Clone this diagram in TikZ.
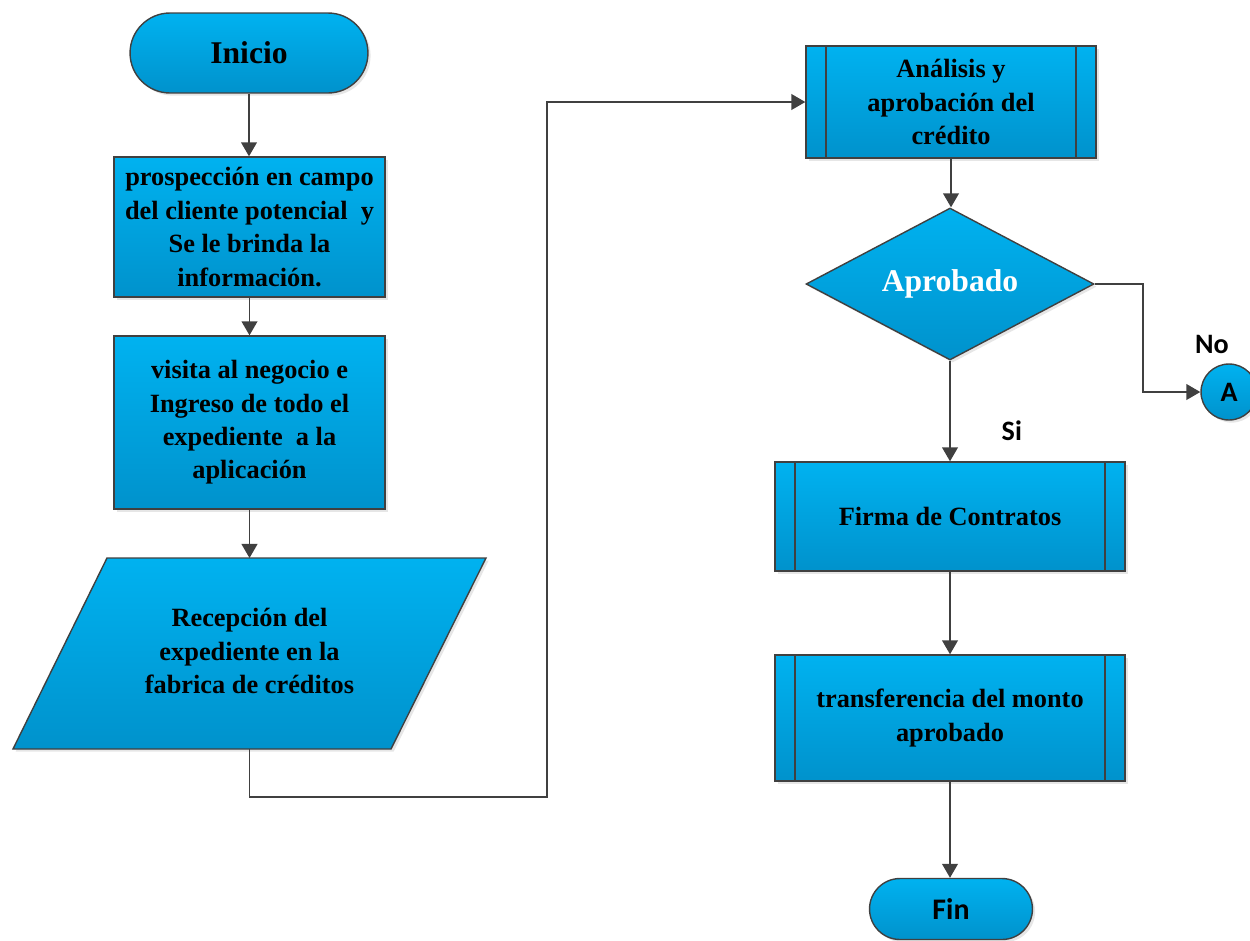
\documentclass[tikz,border=0pt]{standalone}
\usepackage{fontspec}
\setmainfont{Liberation Serif}
\newfontfamily\labelfont{Carlito}
\usepackage{xcolor}
\usetikzlibrary{shapes.geometric,shapes.misc,arrows.meta,shadows}

\definecolor{boxtop}{RGB}{0,178,240}
\definecolor{boxbot}{RGB}{0,146,204}
\definecolor{lineg}{RGB}{64,64,64}

\tikzset{
  block/.style={draw=lineg, line width=0.8pt, top color=boxtop, bottom color=boxbot,
    drop shadow={opacity=0.2, shadow xshift=1.5pt, shadow yshift=-1.5pt},
    align=center, inner sep=2pt, font=\bfseries\fontsize{15}{19}\selectfont},
  process/.style={block, rectangle},
  predef/.style={block, rectangle, path picture={
      \draw[lineg, line width=0.8pt] ([xshift=0.4cm]path picture bounding box.north west)
        -- ([xshift=0.4cm]path picture bounding box.south west);
      \draw[lineg, line width=0.8pt] ([xshift=-0.4cm]path picture bounding box.north east)
        -- ([xshift=-0.4cm]path picture bounding box.south east);}},
  term/.style={block, rounded rectangle},
  plain/.style={align=center, font=\bfseries\fontsize{15}{19}\selectfont},
  flow/.style={draw=lineg, line width=1pt, -{Triangle[width=9pt,length=8pt]}},
  lbl/.style={font=\labelfont\bfseries\fontsize{16}{18}\selectfont}
}

\begin{document}
\begin{tikzpicture}[x=0.02cm, y=-0.02cm]
    % Setup
    \useasboundingbox (0,0) rectangle (1250,940);

    % Left column
    \node[term, minimum width=4.9cm, minimum height=1.6cm,
          font=\bfseries\fontsize{18}{20}\selectfont] (inicio) at (249,53) {Inicio};
    \node[process, minimum width=5.42cm, minimum height=2.8cm] (prosp) at (249.5,227)
        {prospección en campo\\del cliente potencial\ \ y\\Se le brinda la\\información.};
    \node[process, minimum width=5.42cm, minimum height=3.46cm] (visita) at (249.5,422.5)
        {visita al negocio e\\Ingreso de todo el\\expediente\ \ a la\\aplicación};

    % Input/output (parallelogram)
    \path[block] (107,558) -- (486,558) -- (391,749) -- (13,749) -- cycle;
    \coordinate (recepN) at (249.5,558);
    \coordinate (recepS) at (249.5,749);
    \node[plain] (recep) at (249.5,651)
        {Recepción del\\expediente en la\\fabrica de créditos};

    % Right column
    \node[predef, minimum width=5.8cm, minimum height=2.24cm] (analisis) at (951,102)
        {Análisis y\\aprobación del\\crédito};
    \node[block, diamond, aspect=2, inner sep=0pt, minimum width=5.76cm, minimum height=3.04cm,
          text=white, font=\bfseries\fontsize{18}{20}\selectfont] (aprob) at (950,284) {Aprobado};
    \node[predef, minimum width=7cm, minimum height=2.18cm] (firma) at (950,516.5)
        {Firma de Contratos};
    \node[predef, minimum width=7cm, minimum height=2.52cm] (transf) at (950,718)
        {transferencia del monto\\aprobado};
    \node[term, minimum width=3.4cm, minimum height=1.22cm,
          font=\labelfont\bfseries\fontsize{17}{19}\selectfont] (fin) at (951,909) {Fin};

    % Connector A
    \node[block, circle, minimum size=1.12cm, inner sep=0pt, lbl,
          label={[lbl, label distance=2pt, xshift=-0.34cm]above:No}] (conA) at (1229,392) {A};

    % Straight arrows
    \foreach \a/\b in {inicio/prosp, prosp/visita, analisis/aprob, firma/transf, transf/fin} {
        \draw[flow] (\a.south) -- (\a.south |- \b.north);
    }
    \draw[flow] (visita.south) -- (recepN);

    % Long connector to the right column
    \coordinate (knee) at (547,797);
    \draw[flow] (recepS) |- (knee) |- (analisis.west);

    % Decision branches
    \draw[flow] (aprob.south) -- node[lbl, pos=0.7, right=0.9cm] {Si} (aprob.south |- firma.north);
    \draw[flow] (aprob.east) -- ++(48,0) |- (conA.west);
\end{tikzpicture}
\end{document}
